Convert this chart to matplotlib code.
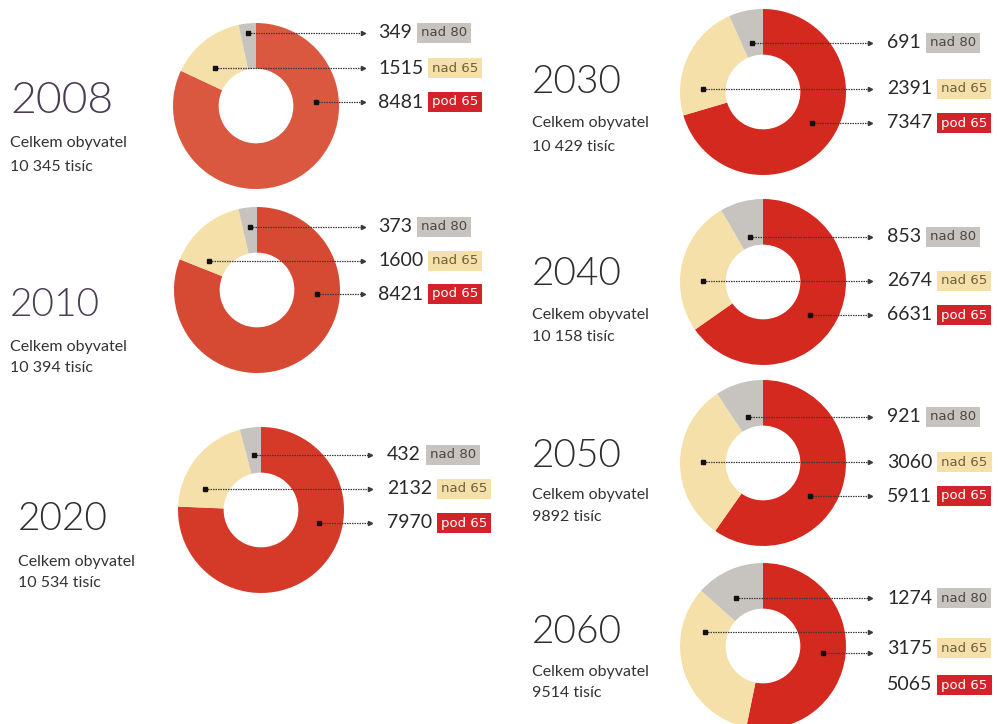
import numpy as np
import matplotlib
matplotlib.use('Agg')
import matplotlib.pyplot as plt

W, H = 998, 724

years = ['2008', '2010', '2020', '2030', '2040', '2050', '2060']
pod_65 = [8481, 8421, 7970, 7347, 6631, 5911, 5065]
nad_65 = [1515, 1600, 2132, 2391, 2674, 3060, 3175]
nad_80 = [349, 373, 432, 691, 853, 921, 1274]
totals = ['10 345', '10 394', '10 534', '10 429', '10 158', '9892', '9514']
group_names = ['nad 80', 'nad 65', 'pod 65']

BEIGE = '#f6e0a9'
GREY = '#c7c3be'
BOX_RED = '#d4222a'
R = 83
RING = 0.55

# layout in pixels from the top-left corner
# centre, y of the three leader lines (nad 80, nad 65, pod 65), y of the labels,
# arrow end x, number x, year position / size, two caption rows, ring colour
charts = [
    dict(c=(256, 106), lines=(33, 68, 102), labels=(33, 68, 102), end=363, numx=378,
         year=(10, 113, 32, '#4b3d52'), cap=(143, 167), red='#da5840'),
    dict(c=(257, 290), lines=(227, 261, 294), labels=(227, 261, 294), end=363, numx=378,
         year=(10, 316, 28, '#4b3d52'), cap=(347, 368), red='#d64a33'),
    dict(c=(261, 510), lines=(455, 489, 523), labels=(455, 489, 523), end=370, numx=387,
         year=(18, 530, 28, '#2e2e2e'), cap=(562, 583), red='#d53a29'),
    dict(c=(763, 92), lines=(43, 89, 123), labels=(43, 89, 123), end=870, numx=887,
         year=(532, 93, 28, '#2e2e2e'), cap=(123, 147), red='#d3291f'),
    dict(c=(763, 282), lines=(237, 281, 315), labels=(237, 281, 315), end=870, numx=887,
         year=(532, 285, 28, '#2e2e2e'), cap=(315, 337), red='#d3291f'),
    dict(c=(763, 463), lines=(417, 462, 496), labels=(417, 462, 496), end=870, numx=887,
         year=(532, 467, 28, '#2e2e2e'), cap=(495, 517), red='#d3291f'),
    dict(c=(763, 646), lines=(598, 632, 653), labels=(598, 648, 685), end=870, numx=887,
         year=(532, 643, 28, '#2e2e2e'), cap=(672, 693), red='#d3291f'),
]

plt.rcParams['font.family'] = ['Lato', 'DejaVu Sans']
fig = plt.figure(figsize=(W / 100, H / 100), dpi=100)
ax = fig.add_axes([0, 0, 1, 1])


def dot_x(wedge, cx, cy, y, right):
    # middle of the part of a horizontal line that falls inside the wedge
    xs = np.linspace(cx - R, cx + R, 1200)
    dx = xs - cx
    dy = y - cy
    rr = np.hypot(dx, dy)
    ang = np.degrees(np.arctan2(dy, dx))
    ang = (ang - wedge.theta1) % 360 + wedge.theta1
    inside = (rr <= R) & (rr >= R * (1 - RING)) & (ang <= wedge.theta2)
    inside &= (dx > 0) if right else (dx < 0)
    return xs[inside].mean()


# rings first, pie() resets the limits every time
all_wedges = []
for i, L in enumerate(charts):
    cx, cy = L['c'][0], H - L['c'][1]
    vals = [pod_65[i], nad_65[i], nad_80[i]]
    wedges, _ = ax.pie(vals, center=(cx, cy), radius=R, startangle=90, counterclock=False,
                       colors=[L['red'], BEIGE, GREY],
                       wedgeprops=dict(width=R * RING, linewidth=0))
    all_wedges.append(wedges)

ax.set_xlim(0, W)
ax.set_ylim(0, H)
ax.set_aspect('auto')
ax.axis('off')
renderer = fig.canvas.get_renderer()

box_styles = [(GREY, '#4d4646'), (BEIGE, '#6e5e40'), (BOX_RED, 'white')]

for i, L in enumerate(charts):
    cx, cy = L['c'][0], H - L['c'][1]
    wedges = all_wedges[i]
    # top-down order: nad 80, nad 65, pod 65
    ordered = [(wedges[2], nad_80[i], False), (wedges[1], nad_65[i], False),
               (wedges[0], pod_65[i], True)]
    for k, (w, v, right) in enumerate(ordered):
        ly = H - L['lines'][k]
        x0 = dot_x(w, cx, cy, ly, right)
        ax.plot([x0, L['end']], [ly, ly], color='#3a3a3a', lw=0.9, ls=(0, (1.2, 0.8)))
        ax.plot([x0], [ly], 's', ms=3.2, color='#111111')
        ax.plot([L['end']], [ly], '>', ms=3, color='#3a3a3a')

        ty = H - L['labels'][k]
        t = ax.text(L['numx'], ty, str(v), ha='left', va='center', fontsize=14,
                    color='#2a2a2a')
        bb = t.get_window_extent(renderer)
        fc, tc = box_styles[k]
        ax.text(bb.x1 + 9, ty, group_names[k], ha='left', va='center', fontsize=9.5,
                color=tc, family=['Liberation Sans Narrow', 'DejaVu Sans'],
                bbox=dict(boxstyle='square,pad=0.3', fc=fc, ec='none'))

    yx, ybase, ysize, ycol = L['year']
    ax.text(yx, H - ybase, years[i], ha='left', va='baseline', fontsize=ysize,
            color=ycol, fontweight=300)
    ax.text(yx, H - L['cap'][0], 'Celkem obyvatel', ha='left', va='center',
            fontsize=11.5, color='#333333')
    ax.text(yx, H - L['cap'][1], totals[i] + ' tisíc', ha='left', va='center',
            fontsize=11.5, color='#333333')

fig.savefig('out.png', dpi=100, facecolor='white')
